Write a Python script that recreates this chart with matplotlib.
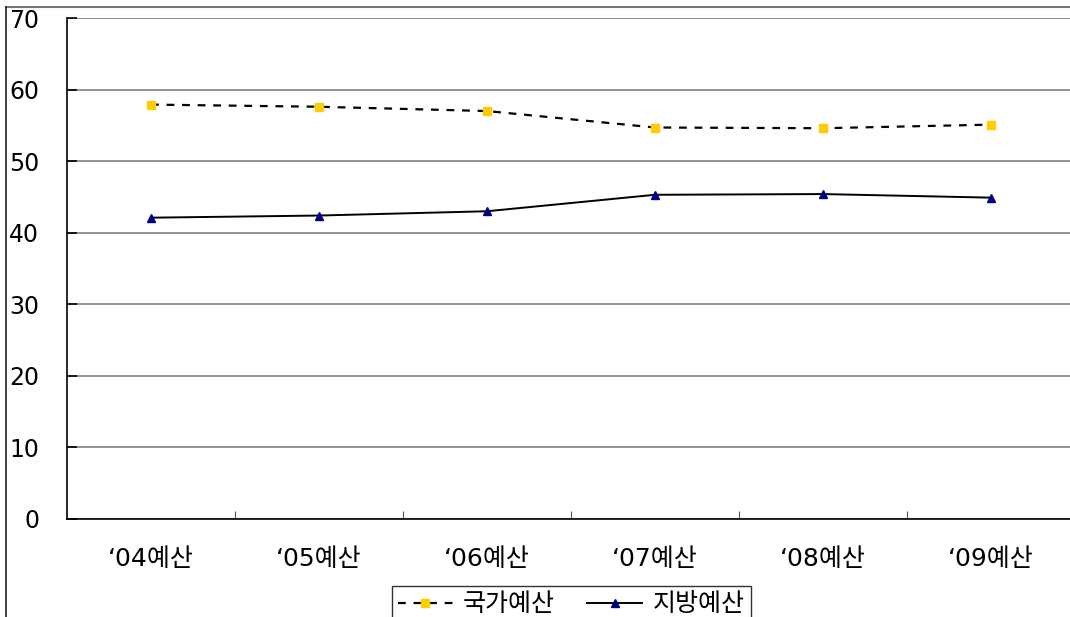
import matplotlib
matplotlib.use("Agg")
import matplotlib.pyplot as plt
from matplotlib.lines import Line2D

# digits and quote from DejaVu (wider, closer to the source), hangul falls back to Noto
plt.rcParams["font.family"] = ["DejaVu Sans", "Noto Sans CJK KR"]

categories = ["‘04예산", "‘05예산", "‘06예산", "‘07예산", "‘08예산", "‘09예산"]
national = [57.9, 57.6, 57.0, 54.7, 54.6, 55.1]
local = [42.1, 42.4, 43.0, 45.3, 45.4, 44.9]
y_ticks = [0, 10, 20, 30, 40, 50, 60, 70]

W, H = 1070, 617
fig = plt.figure(figsize=(W / 100, H / 100), dpi=100)
fig.patch.set_facecolor("white")

# plot area runs a little past the right edge of the picture, as in the source
ax = fig.add_axes([67 / W, 1 - 519 / H, (1075 - 67) / W, (519 - 18) / H])

x = list(range(len(categories)))
ax.plot(x, national, color="black", lw=1.6, linestyle=(0, (3.5, 3.5)),
        marker="s", markersize=6, markerfacecolor="#FFCC00", markeredgecolor="#FFCC00",
        label="국가예산", zorder=3)
ax.plot(x, local, color="black", lw=1.4,
        marker="^", markersize=6, markerfacecolor="#000080", markeredgecolor="#000080",
        label="지방예산", zorder=3)

ax.set_xlim(-0.5, len(categories) - 0.5)
ax.set_ylim(0, 70)
ax.set_yticks(y_ticks)
ax.set_yticklabels([str(v) for v in y_ticks])
ax.yaxis.grid(True, color="#808080", lw=1.2)
ax.set_axisbelow(True)

ax.set_xticks([i + 0.5 for i in range(len(categories) - 1)])
ax.set_xticklabels([])
ax.set_xticks(x, minor=True)
ax.set_xticklabels(categories, minor=True)
ax.tick_params(axis="x", which="major", direction="in", length=6, color="#555555")
ax.tick_params(axis="x", which="minor", length=0, pad=20, labelsize=18)
ax.tick_params(axis="y", direction="in", length=7, width=1.2, pad=20, labelsize=17)

for side in ["top", "right"]:
    ax.spines[side].set_visible(False)
for side in ["left", "bottom"]:
    ax.spines[side].set_color("black")
    ax.spines[side].set_linewidth(1.2)

# outer frame of the source picture (top and left edges)
fig.add_artist(Line2D([6 / W, 1], [1 - 7 / H, 1 - 7 / H], color="#777777", lw=1.5))
fig.add_artist(Line2D([6 / W, 6 / W], [0, 1 - 7 / H], color="#222222", lw=1.2))

leg = fig.legend(loc="upper center", bbox_to_anchor=(571 / W, 1 - 586 / H), ncol=2,
                 fontsize=18, frameon=True, fancybox=False, handlelength=2.2,
                 handletextpad=0.4, columnspacing=1.3, borderpad=0.25, borderaxespad=0)
leg.get_frame().set_edgecolor("black")
leg.get_frame().set_linewidth(1.0)

fig.savefig("out.png", dpi=100)
plt.close(fig)
